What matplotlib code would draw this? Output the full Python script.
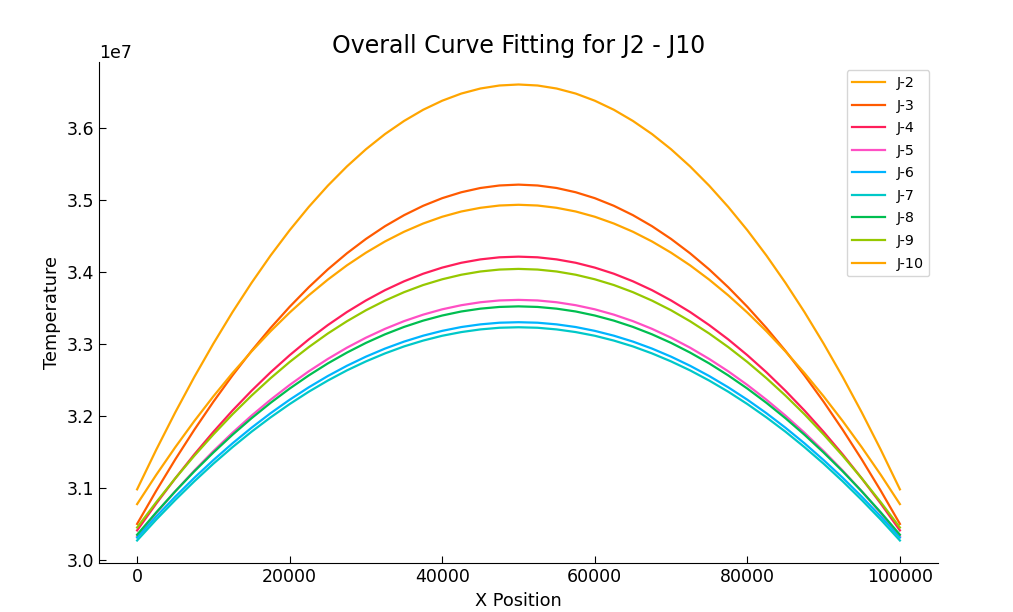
import numpy as np
import matplotlib
matplotlib.use("Agg")
import matplotlib.pyplot as plt

x_pos = [0, 2500, 5000, 7500, 10000, 12500, 15000, 17500, 20000, 22500,
         25000, 27500, 30000, 32500, 35000, 37500, 40000, 42500, 45000, 47500,
         50000, 52500, 55000, 57500, 60000, 62500, 65000, 67500, 70000, 72500,
         75000, 77500, 80000, 82500, 85000, 87500, 90000, 92500, 95000, 97500,
         100000]

labels = ["J-2", "J-3", "J-4", "J-5", "J-6", "J-7", "J-8", "J-9", "J-10"]
colors = ["#FFA500", "#FF5A00", "#FF1E5A", "#FF4FC4", "#00B4FF",
          "#00C8C8", "#00BE50", "#96C800", "#FFA500"]

# temperatures in units of 1e7, rising half (0 .. 50000); curves are symmetric
j2_half = [3.0980, 3.1528, 3.2048, 3.2540, 3.3003, 3.3439, 3.3846, 3.4226, 3.4577, 3.4900,
           3.5195, 3.5462, 3.5701, 3.5912, 3.6094, 3.6249, 3.6375, 3.6474, 3.6544, 3.6586,
           3.6600]
j3_half = [3.0500, 3.0959, 3.1395, 3.1807, 3.2196, 3.2561, 3.2902, 3.3220, 3.3514, 3.3785,
           3.4033, 3.4256, 3.4456, 3.4633, 3.4786, 3.4916, 3.5022, 3.5104, 3.5163, 3.5198,
           3.5210]
j4_half = [3.0410, 3.0781, 3.1132, 3.1465, 3.1778, 3.2073, 3.2348, 3.2605, 3.2842, 3.3061,
           3.3260, 3.3441, 3.3602, 3.3745, 3.3868, 3.3973, 3.4058, 3.4125, 3.4172, 3.4201,
           3.4210]
j5_half = [3.0330, 3.0650, 3.0953, 3.1240, 3.1511, 3.1765, 3.2003, 3.2224, 3.2429, 3.2618,
           3.2790, 3.2946, 3.3085, 3.3208, 3.3315, 3.3405, 3.3479, 3.3536, 3.3577, 3.3602,
           3.3610]
j6_half = [3.0310, 3.0602, 3.0878, 3.1140, 3.1386, 3.1618, 3.1835, 3.2037, 3.2224, 3.2396,
           3.2553, 3.2695, 3.2822, 3.2934, 3.3031, 3.3113, 3.3180, 3.3233, 3.3270, 3.3293,
           3.3300]
j7_half = [3.0270, 3.0559, 3.0832, 3.1091, 3.1336, 3.1565, 3.1780, 3.1979, 3.2164, 3.2335,
           3.2490, 3.2631, 3.2756, 3.2867, 3.2964, 3.3045, 3.3112, 3.3163, 3.3200, 3.3223,
           3.3230]
j8_half = [3.0350, 3.0659, 3.0952, 3.1230, 3.1491, 3.1737, 3.1967, 3.2181, 3.2379, 3.2561,
           3.2728, 3.2878, 3.3013, 3.3132, 3.3235, 3.3322, 3.3393, 3.3449, 3.3488, 3.3512,
           3.3520]
j9_half = [3.0450, 3.0800, 3.1132, 3.1446, 3.1742, 3.2021, 3.2281, 3.2523, 3.2748, 3.2954,
           3.3143, 3.3313, 3.3466, 3.3600, 3.3717, 3.3816, 3.3896, 3.3959, 3.4004, 3.4031,
           3.4040]
j10_half = [3.0775, 3.1180, 3.1564, 3.1928, 3.2271, 3.2593, 3.2894, 3.3175, 3.3434, 3.3673,
            3.3891, 3.4089, 3.4265, 3.4421, 3.4556, 3.4670, 3.4764, 3.4837, 3.4888, 3.4920,
            3.4930]

halves = [j2_half, j3_half, j4_half, j5_half, j6_half, j7_half, j8_half, j9_half, j10_half]

fig = plt.figure(figsize=(10.13, 6.12), dpi=100)
ax = fig.add_axes([0.0977, 0.0796, 0.8283, 0.8196])

for half, lab, col in zip(halves, labels, colors):
    # mirror the rising half to get the falling half
    vals = half + half[-2::-1]
    ax.plot(x_pos, np.array(vals) * 1e7, color=col, linewidth=1.6, label=lab)

ax.set_title("Overall Curve Fitting for J2 - J10", fontsize=17)
ax.set_xlabel("X Position", fontsize=12.8)
ax.set_ylabel("Temperature", fontsize=12.8)
ax.tick_params(direction="in", length=5, labelsize=12.5)
ax.yaxis.get_offset_text().set_fontsize(12.5)
ax.spines["top"].set_visible(False)
ax.spines["right"].set_visible(False)
ax.legend(loc="upper right", fontsize=10.3, frameon=True, edgecolor="#cccccc",
          handlelength=2.3, labelspacing=0.6, borderaxespad=0.6)

fig.savefig("out.png", dpi=100)
